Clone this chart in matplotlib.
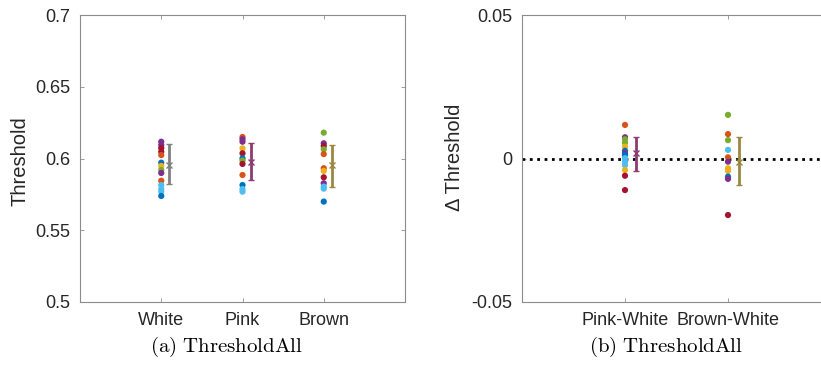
import numpy as np
import matplotlib
matplotlib.use("Agg")
import matplotlib.pyplot as plt

plt.rcParams['font.family'] = ['Liberation Sans', 'DejaVu Sans']
plt.rcParams['mathtext.fontset'] = 'cm'

# MATLAB default colour order
C = {'b': '#0072BD', 'o': '#D95319', 'y': '#EDB120', 'p': '#7E2F8E',
     'g': '#77AC30', 'c': '#4DBEEE', 'r': '#A2142F'}

# ---- panel (a): thresholds per noise colour ----
groups = ['White', 'Pink', 'Brown']
white_vals = [0.6117, 0.6094, 0.6073, 0.6047, 0.6024, 0.5971, 0.5948, 0.5920,
              0.5899, 0.5845, 0.5815, 0.5787, 0.5769, 0.5739]
white_cols = ['p', 'p', 'r', 'r', 'o', 'b', 'y', 'g', 'p', 'o', 'c', 'c', 'c', 'b']
pink_vals = [0.6150, 0.6135, 0.6117, 0.6071, 0.6036, 0.6001, 0.5985, 0.5962,
             0.5885, 0.5815, 0.5787, 0.5769]
pink_cols = ['o', 'p', 'p', 'y', 'r', 'b', 'g', 'r', 'o', 'b', 'c', 'c']
brown_vals = [0.6180, 0.6106, 0.6087, 0.6064, 0.6031, 0.5932, 0.5913, 0.5869,
              0.5827, 0.5804, 0.5790, 0.5700]
brown_cols = ['g', 'p', 'r', 'g', 'o', 'o', 'y', 'r', 'p', 'c', 'c', 'b']
mean_a = [0.5955, 0.5978, 0.5955]
err_lo_a = [0.5820, 0.5850, 0.5804]
err_hi_a = [0.6100, 0.6106, 0.6094]

# ---- panel (b): differences relative to white ----
diffs = ['Pink-White', 'Brown-White']
pw_vals = [0.0117, 0.0074, 0.0067, 0.0055, 0.0041, 0.0027, 0.0018, 0.0012,
           0.0001, -0.0011, -0.0023, -0.0040, -0.0060, -0.0110]
pw_cols = ['o', 'p', 'g', 'g', 'y', 'b', 'p', 'b', 'c', 'c', 'c', 'y', 'r', 'r']
bw_vals = [0.0152, 0.0085, 0.0064, 0.0030, 0.0004, -0.0011, -0.0034, -0.0043,
           -0.0063, -0.0071, -0.0197]
bw_cols = ['g', 'o', 'g', 'c', 'o', 'p', 'y', 'y', 'b', 'p', 'r']
mean_b = [0.0018, -0.0011]
err_lo_b = [-0.0044, -0.0092]
err_hi_b = [0.0076, 0.0074]

bar_cols = ['#808080', '#8E3A73', '#9A8740']

fig = plt.figure(figsize=(8.21, 3.83), dpi=100)
ax1 = fig.add_axes([80/821, 81/383, 325/821, 287/383])
ax2 = fig.add_axes([522/821, 81/383, 309/821, 287/383])


def style(ax):
    for s in ax.spines.values():
        s.set_color('#8c8c8c')
        s.set_linewidth(0.8)
    ax.tick_params(direction='in', length=3, width=0.6, color='#8c8c8c',
                   labelsize=13, labelcolor='#262626', top=True, right=True,
                   pad=7)


# panel (a)
for i, (vals, cols) in enumerate([(white_vals, white_cols),
                                  (pink_vals, pink_cols),
                                  (brown_vals, brown_cols)]):
    x = i + 1
    ax1.scatter([x] * len(vals), vals, s=20, c=[C[k] for k in cols],
                edgecolors='none', zorder=3)
    ax1.errorbar(x + 0.1, mean_a[i],
                 yerr=[[mean_a[i] - err_lo_a[i]], [err_hi_a[i] - mean_a[i]]],
                 fmt='x', color=bar_cols[i], ms=4, mew=1, elinewidth=2,
                 capsize=2.5, capthick=1.2, zorder=4)
ax1.set_xlim(0, 4)
ax1.set_ylim(0.5, 0.7)
ax1.set_xticks([1, 2, 3])
ax1.set_xticklabels(groups)
ax1.set_yticks([0.5, 0.55, 0.6, 0.65, 0.7])
ax1.set_yticklabels(['0.5', '0.55', '0.6', '0.65', '0.7'])
ax1.set_ylabel('Threshold', fontsize=14.5, color='#262626', va='center')
ax1.yaxis.set_label_coords(-0.185, 0.49)
style(ax1)

# panel (b)
ax2.axhline(0, color='black', linestyle=':', linewidth=2, zorder=2)
for i, (vals, cols) in enumerate([(pw_vals, pw_cols), (bw_vals, bw_cols)]):
    x = i + 1
    ax2.scatter([x] * len(vals), vals, s=20, c=[C[k] for k in cols],
                edgecolors='none', zorder=3)
    ax2.errorbar(x + 0.11, mean_b[i],
                 yerr=[[mean_b[i] - err_lo_b[i]], [err_hi_b[i] - mean_b[i]]],
                 fmt='x', color=bar_cols[i + 1], ms=4, mew=1, elinewidth=2,
                 capsize=2.5, capthick=1.2, zorder=4)
ax2.set_xlim(0, 3)
ax2.set_ylim(-0.05, 0.05)
ax2.set_xticks([1, 2])
ax2.set_xticklabels(diffs)
ax2.set_yticks([-0.05, 0, 0.05])
ax2.set_yticklabels(['-0.05', '0', '0.05'])
ax2.set_ylabel('Δ Threshold', fontsize=14.5, color='#262626', va='center')
ax2.yaxis.set_label_coords(-0.22, 0.505)
style(ax2)

fig.text(226/821, 1 - 347/383, r'$\mathrm{(a)\ ThresholdAll}$', fontsize=15,
         ha='center', va='center')
fig.text(666/821, 1 - 347/383, r'$\mathrm{(b)\ ThresholdAll}$', fontsize=15,
         ha='center', va='center')

fig.savefig('out.png', dpi=100)
